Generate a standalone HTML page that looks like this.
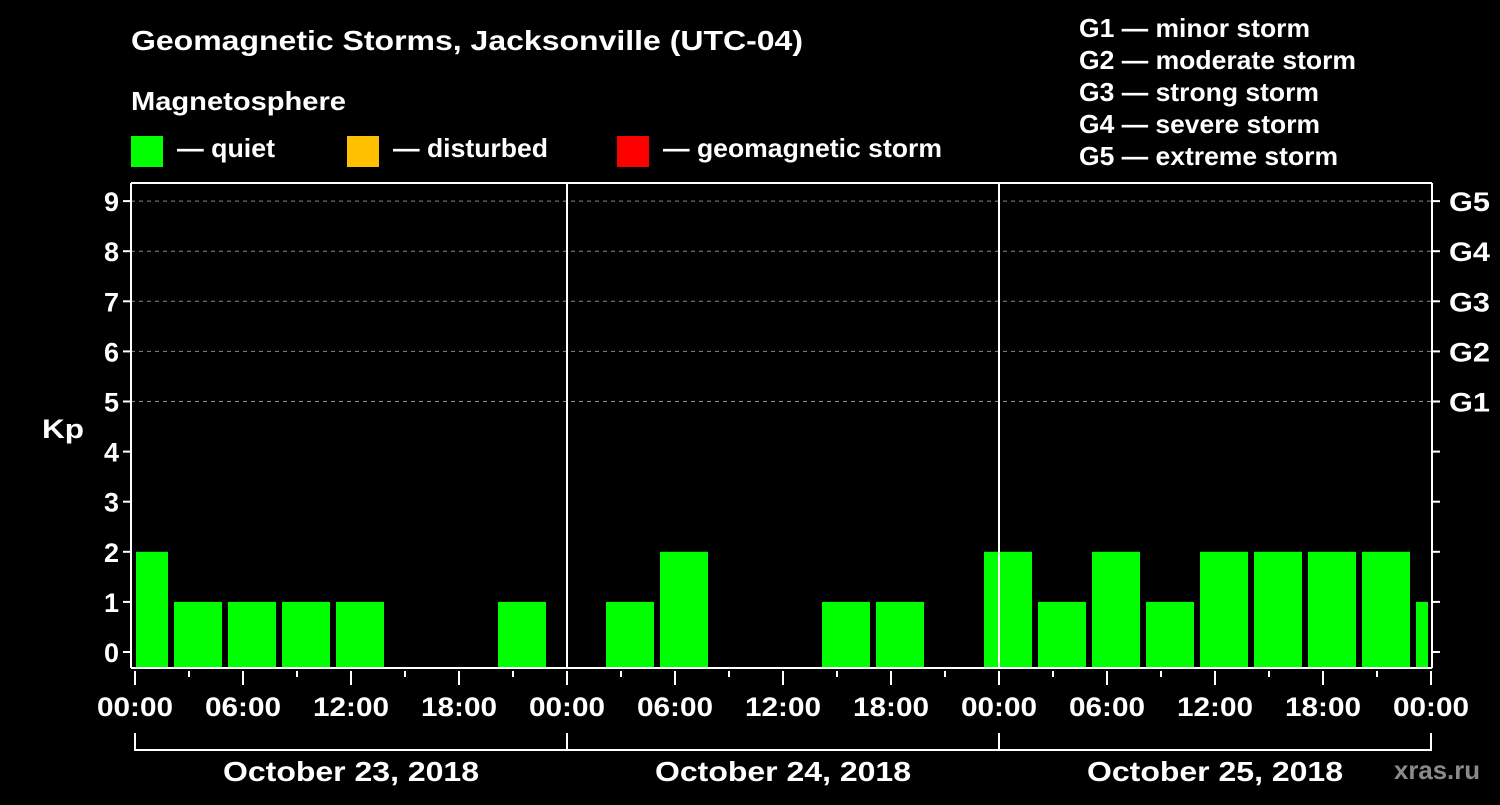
<!DOCTYPE html>
<html><head><meta charset="utf-8"><style>
body{margin:0;background:#000;width:1500px;height:800px;overflow:hidden}
svg text{font-family:"Liberation Sans",sans-serif;font-weight:bold;fill:#fff}
</style></head><body>
<svg id="c" width="1500" height="800" xmlns="http://www.w3.org/2000/svg">
<text x="131" y="50" font-size="28" textLength="672" lengthAdjust="spacingAndGlyphs">Geomagnetic Storms, Jacksonville (UTC-04)</text>
<text x="131" y="110" font-size="26" textLength="215" lengthAdjust="spacingAndGlyphs">Magnetosphere</text>
<rect x="131" y="136" width="32" height="31" fill="#00ff00"/>
<text x="177" y="157" font-size="26" textLength="98" lengthAdjust="spacingAndGlyphs">— quiet</text>
<rect x="347" y="136" width="32" height="31" fill="#ffc000"/>
<text x="393" y="157" font-size="26" textLength="155" lengthAdjust="spacingAndGlyphs">— disturbed</text>
<rect x="617" y="136" width="32" height="31" fill="#ff0000"/>
<text x="663" y="157" font-size="26" textLength="279" lengthAdjust="spacingAndGlyphs">— geomagnetic storm</text>
<g font-size="26">
<text x="1079" y="37" textLength="231" lengthAdjust="spacingAndGlyphs">G1 — minor storm</text>
<text x="1079" y="69" textLength="277" lengthAdjust="spacingAndGlyphs">G2 — moderate storm</text>
<text x="1079" y="101" textLength="240" lengthAdjust="spacingAndGlyphs">G3 — strong storm</text>
<text x="1079" y="133" textLength="241" lengthAdjust="spacingAndGlyphs">G4 — severe storm</text>
<text x="1079" y="165" textLength="259" lengthAdjust="spacingAndGlyphs">G5 — extreme storm</text>
</g>
<text x="42" y="438" font-size="27" textLength="42" lengthAdjust="spacingAndGlyphs">Kp</text>
<text x="1394" y="779" font-size="26" textLength="86" lengthAdjust="spacingAndGlyphs" style="fill:#8a8a8a">xras.ru</text>
<g id="plot"></g>
</svg>
<script>
const kpValues=[2,1,1,1,1,0,0,1,0,1,2,0,0,1,1,0,2,1,2,1,2,2,2,2,1];
const yTicks=[0,1,2,3,4,5,6,7,8,9];
const gLabels=["G1","G2","G3","G4","G5"];
const xTickLabels=["00:00","06:00","12:00","18:00","00:00","06:00","12:00","18:00","00:00","06:00","12:00","18:00","00:00"];
const dayLabels=["October 23, 2018","October 24, 2018","October 25, 2018"];
const X0=135,PX_H=18,L=131,R=1432,T=183,B=668;
const xs=h=>X0+h*PX_H;
const ys=v=>652-v*50.1;
const NS="http://www.w3.org/2000/svg";
const g=document.getElementById('plot');
function mk(tag,a){const e=document.createElementNS(NS,tag);for(const k in a)e.setAttribute(k,a[k]);g.appendChild(e);return e;}
yTicks.forEach(v=>{
 if(v>=5){const l=mk('line',{x1:L,x2:R,y1:ys(v),y2:ys(v),stroke:'#888','stroke-dasharray':'4,4'});
 
 }
 const t1=mk('line',{x1:L-8,x2:L,y1:ys(v),y2:ys(v),stroke:'#fff','stroke-width':2});
 
 
 const t2=mk('line',{x1:R,x2:R+8,y1:ys(v),y2:ys(v),stroke:'#fff','stroke-width':2});
 
 
 const tx=mk('text',{x:L-12,y:ys(v)+10,'font-size':27,'text-anchor':'end'});tx.textContent=v;
 
 
});
gLabels.forEach((s,i)=>{const tx=mk('text',{x:R+17,y:ys(5+i)+10,'font-size':27,textLength:41,lengthAdjust:'spacingAndGlyphs'});tx.textContent=s;
 
 });
kpValues.forEach((v,i)=>{
 if(v<=0)return;
 let a=xs(-1+3*i)+3,b=xs(2+3*i)-3;
 a=Math.max(a,X0+1);b=Math.min(b,R-4);
 const col=v>=5?'#ff0000':(v>=4?'#ffc000':'#00ff00');
 const r=mk('rect',{x:a,y:ys(v),width:b-a,height:B-ys(v),fill:col});
 
 
});
[[L,T,L,B],[L,B,R,B],[R,T,R,B],[L,T,R,T],[xs(24),T,xs(24),B],[xs(48),T,xs(48),B]].forEach(p=>{
 const l=mk('line',{x1:p[0],y1:p[1],x2:p[2],y2:p[3],stroke:'#fff','stroke-width':2});
 
 });
for(let h=0;h<=72;h+=3){
 const major=h%6==0;
 const l=mk('line',{x1:xs(h),x2:xs(h),y1:B+3,y2:major?685:677,stroke:'#fff','stroke-width':2});
 
 
}
xTickLabels.forEach((s,i)=>{const tx=mk('text',{x:xs(i*6)-38,y:716,'font-size':27,textLength:76,lengthAdjust:'spacingAndGlyphs'});tx.textContent=s;
 
 });
const br=mk('path',{d:`M${xs(0)} 733V750H${xs(72)}V733 M${xs(24)} 733V750 M${xs(48)} 733V750`,stroke:'#fff','stroke-width':2,fill:'none'});


dayLabels.forEach((s,i)=>{const tx=mk('text',{x:xs(12+24*i)-128,y:781,'font-size':28,textLength:256,lengthAdjust:'spacingAndGlyphs'});tx.textContent=s;
 
 });
</script>
</body></html>
